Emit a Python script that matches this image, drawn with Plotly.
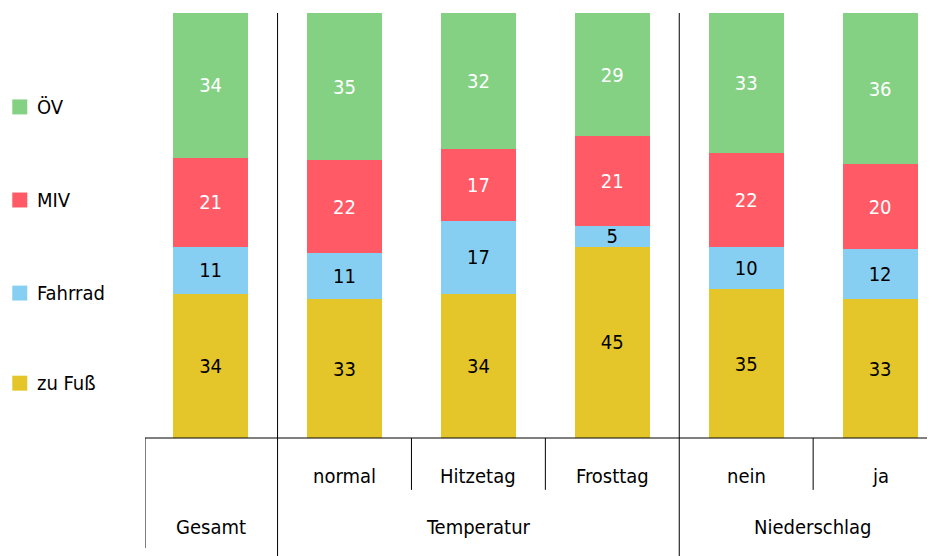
import plotly.graph_objects as go

# Kategorien (Reihenfolge der Balken)
gruppen = ['Gesamt', 'normal', 'Hitzetag', 'Frosttag', 'nein', 'ja']
unterlabels = ['', 'normal', 'Hitzetag', 'Frosttag', 'nein', 'ja']
oberlabels = ['Gesamt', 'Temperatur', 'Niederschlag']
oberlabel_pos = [0, 2, 4.5]

# Anteile in Prozent, von unten nach oben gestapelt
zu_fuss = [34, 33, 34, 45, 35, 33]
fahrrad = [11, 11, 17, 5, 10, 12]
miv = [21, 22, 17, 21, 22, 20]
oev = [34, 35, 32, 29, 33, 36]

serien = [
    ('zu Fuß', zu_fuss, '#E5C62A', 'black'),
    ('Fahrrad', fahrrad, '#87CFF2', 'black'),
    ('MIV', miv, '#FF5A66', 'white'),
    ('ÖV', oev, '#84D184', 'white'),
]

FONT = 'Liberation Sans Narrow, DejaVu Sans Condensed, Open Sans, sans-serif'
x = list(range(len(gruppen)))

fig = go.Figure()
for name, werte, farbe, textfarbe in serien:
    fig.add_trace(go.Bar(
        x=x, y=werte, name=name, marker_color=farbe, marker_line_width=0,
        width=0.56, text=[str(v) for v in werte], textposition='inside',
        insidetextanchor='middle', textangle=0,
        textfont=dict(color=textfarbe, size=20, family=FONT),
        showlegend=False))

# Seite hat 8px Rand (body margin): Figur 8px kleiner, damit keine Scrollbalken
fig.update_layout(
    barmode='stack', barnorm='percent',
    width=927, height=548,
    margin=dict(l=137, r=0, t=5, b=118, autoexpand=False),
    plot_bgcolor='white', paper_bgcolor='white',
    font=dict(family=FONT, size=20, color='black'),
    uniformtext=dict(minsize=20, mode='show'),
)
fig.update_xaxes(range=[-0.49, 5.41], showticklabels=False, showgrid=False,
                 zeroline=False, showline=False, ticks='')
fig.update_yaxes(range=[0, 100], visible=False)

# Linien der Tabelle unter dem Diagramm
linie = dict(color='black', width=1)
fig.add_shape(type='line', xref='paper', yref='paper', x0=0, x1=1, y0=0, y1=0, line=linie)
fig.add_shape(type='line', xref='x', yref='paper', x0=-0.49, x1=-0.49, y0=0, y1=-0.259, line=linie)
for xs in [0.5, 3.5]:
    fig.add_shape(type='line', xref='x', yref='paper', x0=xs, x1=xs, y0=1, y1=-0.278, line=linie)
for xs in [1.5, 2.5, 4.5]:
    fig.add_shape(type='line', xref='x', yref='paper', x0=xs, x1=xs, y0=0, y1=-0.122, line=linie)

for xi, lab in zip(x, unterlabels):
    if lab:
        fig.add_annotation(x=xi, y=-0.089, xref='x', yref='paper', text=lab,
                           showarrow=False, font=dict(size=20), yanchor='middle')
for xi, lab in zip(oberlabel_pos, oberlabels):
    fig.add_annotation(x=xi, y=-0.209, xref='x', yref='paper', text=lab,
                       showarrow=False, font=dict(size=20), yanchor='middle')

# Legende links
legende_y = [0.779, 0.560, 0.341, 0.129]
for (name, werte, farbe, _), ly in zip(serien[::-1], legende_y):
    fig.add_shape(type='rect', xref='paper', yref='paper',
                  x0=-0.168, x1=-0.149, y0=ly - 0.0176, y1=ly + 0.0176,
                  fillcolor=farbe, line_width=0)
    fig.add_annotation(x=-0.139, y=ly, xref='paper', yref='paper', text=name,
                       showarrow=False, xanchor='left', yanchor='middle',
                       font=dict(size=20))

fig.write_html('out.html')
